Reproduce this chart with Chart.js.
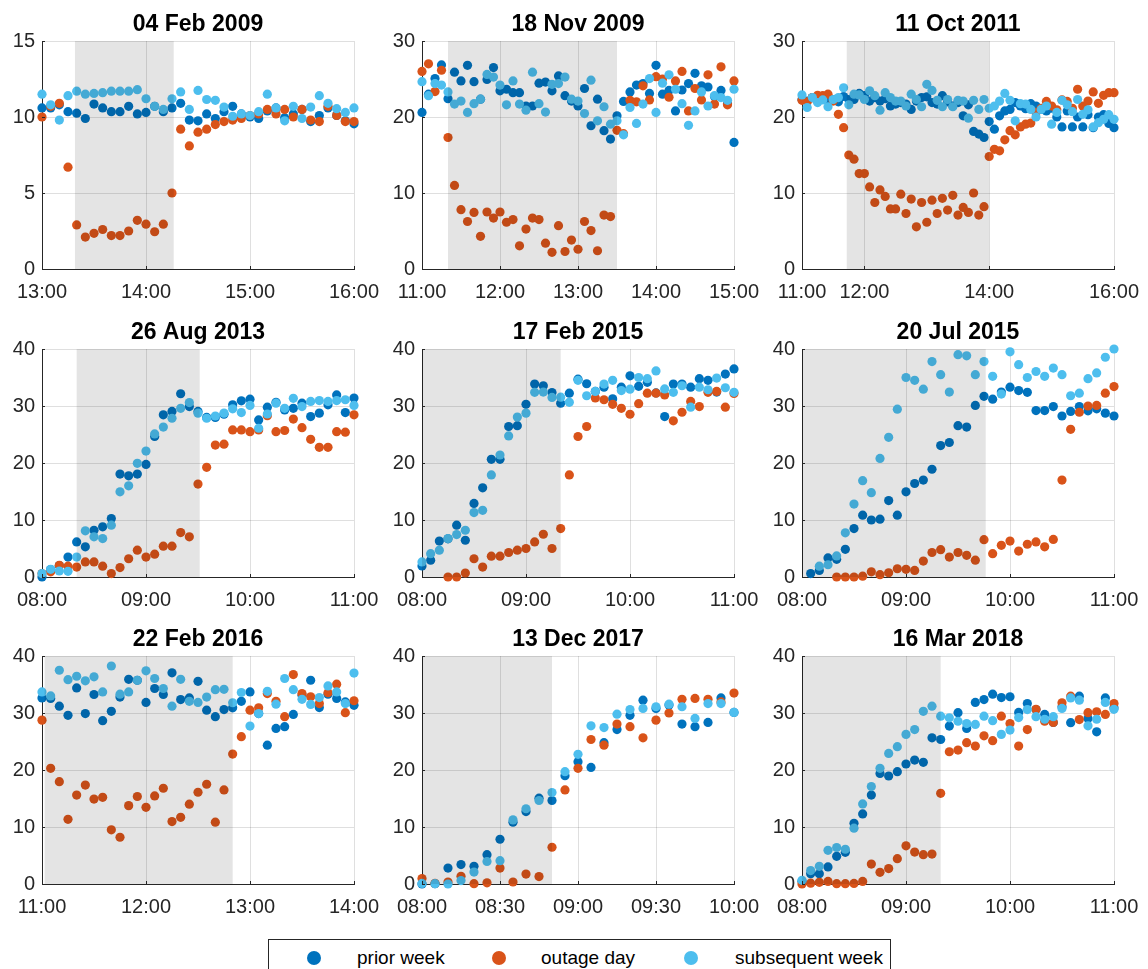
<!DOCTYPE html>
<html>
<head>
<meta charset="utf-8">
<script src="https://cdn.jsdelivr.net/npm/chart.js@4.4.1/dist/chart.umd.min.js"></script>
<style>
html,body{margin:0;padding:0;background:#fff;width:1148px;height:969px;overflow:hidden;position:relative;font-family:"Liberation Sans",Arial,Helvetica,sans-serif;}
canvas{position:absolute;}
#legend{position:absolute;left:268px;top:939px;width:623px;height:44px;border:1px solid #262626;background:#fff;box-sizing:border-box;}
#legend .dot{position:absolute;top:11px;width:14px;height:14px;border-radius:50%;}
#legend .txt{position:absolute;top:6px;font-size:19px;line-height:24px;color:#000;white-space:nowrap;}
</style>
</head>
<body>
<div id="legend">
  <div class="dot" style="left:38px;background:#0072BD"></div><div class="txt" style="left:88px">prior week</div>
  <div class="dot" style="left:223px;background:#D95319"></div><div class="txt" style="left:272px">outage day</div>
  <div class="dot" style="left:415px;background:#4DBEEE"></div><div class="txt" style="left:466px">subsequent week</div>
</div>
<script>
// ---------------- data ----------------
const titles = ['04 Feb 2009','18 Nov 2009','11 Oct 2011','26 Aug 2013','17 Feb 2015','20 Jul 2015','22 Feb 2016','13 Dec 2017','16 Mar 2018'];
const startTimes = ['13:00','11:00','11:00','08:00','08:00','08:00','11:00','08:00','08:00'];
const stepMinutes = 5;
const xTickLabels = [
  ['13:00','14:00','15:00','16:00'],
  ['11:00','12:00','13:00','14:00','15:00'],
  ['11:00','12:00','14:00','16:00'],
  ['08:00','09:00','10:00','11:00'],
  ['08:00','09:00','10:00','11:00'],
  ['08:00','09:00','10:00','11:00'],
  ['11:00','12:00','13:00','14:00'],
  ['08:00','08:30','09:00','09:30','10:00'],
  ['08:00','09:00','10:00','11:00']
];
const xMin = ['13:00','11:00','11:00','08:00','08:00','08:00','11:00','08:00','08:00'];
const xMax = ['16:00','15:00','16:00','11:00','11:00','11:00','14:00','10:00','11:00'];
const yTickLabels = [
  [0,5,10,15],[0,10,20,30],[0,10,20,30],
  [0,10,20,30,40],[0,10,20,30,40],[0,10,20,30,40],
  [0,10,20,30,40],[0,10,20,30,40],[0,10,20,30,40]
];
const shadeStart = ['13:19','11:20','11:43','08:20','08:00','08:00','11:01.5','08:00','08:00'];
const shadeEnd   = ['14:16','13:30','14:00','09:31','09:20','09:46','12:50','08:50','09:20'];

const p1Prior = [10.6,10.6,10.8,10.35,10.25,9.9,10.85,10.6,10.35,10.35,10.7,10.2,10.3,10.7,10.35,10.6,10.9,9.8,9.75,10.2,9.9,10.35,10.7,10.2,10.0,9.9,10.4,10.6,9.95,10.2,10.5,9.7,10.1,10.6,10.1,9.75,9.55];
const p1Outage = [10.0,10.7,10.9,6.7,2.9,2.1,2.35,2.6,2.2,2.2,2.5,3.2,2.95,2.45,2.95,5.0,9.2,8.1,9.0,9.2,9.5,9.7,9.8,9.9,10.1,10.2,10.5,10.2,10.5,10.0,10.5,9.8,9.7,10.7,10.1,9.7,9.7];
const p1Subsequent = [11.5,10.8,9.8,11.4,11.7,11.5,11.55,11.6,11.7,11.7,11.7,11.8,11.2,10.7,10.5,11.2,11.65,10.5,11.75,11.15,11.1,10.65,10.05,10.2,10.1,10.35,11.5,10.6,9.75,10.7,9.9,10.65,11.4,10.9,10.55,10.3,10.6];

const p2Prior = [20.6,23.0,25.05,26.85,22.4,25.9,24.75,26.8,24.65,22.35,24.95,26.5,23.45,23.65,23.2,23.2,21.45,21.45,24.45,24.6,23.45,25.4,22.8,22.1,21.45,23.75,18.85,22.35,18.2,17.1,20.15,22.05,23.3,24.2,24.4,23.1,26.8,23.0,23.5,20.8,23.55,24.4,25.75,24.1,23.95,22.7,23.5,21.75,16.65];
const p2Outage = [26.0,27.0,23.35,26.15,17.3,11.0,7.8,6.25,7.45,4.3,7.5,6.7,7.5,6.15,6.5,3.05,5.25,6.7,6.5,3.4,2.2,5.7,2.3,3.8,2.6,6.25,5.05,2.4,7.1,6.9,18.25,17.8,22.2,22.0,24.1,22.25,25.3,25.0,22.6,24.75,26.0,20.8,23.75,22.25,25.55,21.7,26.6,21.6,24.75];
const p2Subsequent = [24.65,22.8,24.4,24.2,23.3,21.7,22.1,20.6,21.75,22.35,25.6,25.25,24.2,21.6,24.75,21.7,20.9,25.9,21.75,20.65,24.3,24.4,25.25,22.35,22.1,20.45,24.85,19.5,21.35,19.05,19.5,17.65,21.25,19.15,21.7,25.05,20.6,24.45,25.55,23.65,21.75,18.9,20.8,23.3,21.45,22.8,22.55,22.2,23.65];

const p3Prior = [22.3,22.1,22.55,22.1,22.3,22.25,22.3,22.0,22.7,22.3,22.3,23.1,22.8,22.1,22.55,22.1,22.4,21.45,21.7,21.9,21.7,21.0,22.1,22.55,22.65,21.9,21.7,22.8,22.0,21.45,21.9,20.15,21.6,18.1,17.75,17.3,19.4,18.4,20.15,20.8,21.0,21.9,21.45,21.1,21.75,21.45,21.0,20.8,21.15,20.0,18.7,20.8,18.7,20.0,18.7,20.3,18.6,20.0,20.3,19.15,18.6];
const p3Outage = [22.2,22.0,22.55,22.85,22.8,23.0,22.1,20.35,18.6,15.0,14.45,12.55,12.55,10.8,8.75,10.4,9.55,7.9,7.9,9.85,7.3,9.2,5.55,8.75,6.15,9.05,7.3,9.3,7.75,9.7,7.1,8.1,7.45,10.0,7.1,8.2,14.8,15.75,15.55,17.0,18.2,17.65,18.7,19.05,19.2,20.6,21.15,22.05,21.45,20.95,22.25,22.05,21.15,23.65,21.45,22.1,23.3,21.8,22.85,23.2,23.2];
const p3Subsequent = [22.9,21.25,22.55,21.9,22.25,21.35,22.3,22.55,23.85,21.6,23.0,22.9,22.3,23.45,22.8,20.9,23.2,22.55,22.1,22.1,21.45,23.0,22.3,21.35,24.3,23.5,22.2,21.35,22.3,21.35,22.2,22.1,19.85,22.2,21.0,22.3,21.15,21.45,22.1,23.1,22.2,19.5,21.75,21.7,21.0,20.0,21.0,21.45,19.05,20.6,22.2,21.6,20.7,22.3,20.35,20.95,18.7,19.25,19.7,20.3,19.7];

const p4Prior = [0.0,1.3,2.0,3.5,6.15,5.3,8.2,8.8,10.25,18.05,17.75,18.05,19.75,24.65,28.45,29.05,32.15,29.9,29.05,28.0,28.0,28.55,30.2,30.9,31.2,27.55,29.8,30.65,29.3,29.6,30.5,28.15,28.75,30.2,31.95,28.85,31.4];
const p4Outage = [0.6,0.9,2.05,1.9,1.75,2.65,2.65,1.9,0.6,1.65,3.2,4.7,3.5,4.0,5.4,5.4,7.8,7.05,16.3,19.25,23.15,23.3,25.8,25.8,25.5,25.8,28.3,25.5,25.7,27.7,26.2,24.15,22.75,22.75,25.5,25.4,28.45];
const p4Subsequent = [0.6,1.35,1.05,1.0,3.5,8.1,7.05,6.75,9.1,14.95,16.0,19.95,22.1,25.1,26.3,27.85,29.6,30.6,28.75,27.85,28.25,28.75,29.5,28.85,30.1,26.1,28.6,30.5,29.6,31.35,29.9,30.8,30.95,30.8,30.95,31.1,30.1];

const p5Prior = [1.95,2.95,6.3,6.7,9.1,6.45,12.9,15.65,20.65,20.65,26.4,26.55,30.3,33.85,33.55,32.35,30.5,32.25,34.7,33.9,32.55,33.3,31.25,33.3,35.3,33.45,34.15,32.3,28.15,33.85,33.85,33.3,34.8,34.5,32.45,35.6,36.5];
const p5Outage = [null,null,null,0.0,0.0,0.7,3.2,1.75,3.65,3.65,4.3,4.7,5.0,6.15,7.5,5.0,8.5,17.9,24.65,26.4,31.4,31.1,30.3,29.6,28.55,30.4,32.25,32.25,31.95,27.4,28.9,30.8,29.9,32.4,32.55,29.8,32.2];
const p5Subsequent = [2.65,4.1,4.7,6.75,7.45,8.2,11.3,11.7,17.9,21.4,24.75,28.05,28.75,32.4,32.45,31.5,31.55,30.65,34.5,31.8,32.55,33.85,34.5,32.7,32.95,35.0,34.8,36.15,33.0,32.4,33.55,29.8,33.3,32.85,34.9,33.2,32.4];

const p6Prior = [null,0.6,1.15,3.35,3.1,4.85,8.5,10.85,10.0,10.15,13.4,10.85,14.95,16.4,17.0,18.9,23.05,23.6,26.55,26.3,30.1,31.7,31.2,32.45,33.3,32.7,32.4,29.2,29.2,29.9,28.25,29.05,29.9,29.15,29.5,28.75,28.25];
const p6Outage = [null,null,null,null,0.0,0.0,0.0,0.15,0.9,0.4,0.75,1.45,1.35,1.15,2.8,4.3,4.8,3.5,4.3,3.8,2.95,6.55,4.1,5.55,6.3,4.55,5.75,6.15,5.3,6.6,17.0,25.9,28.9,30.0,30.1,32.25,33.4];
const p6Subsequent = [null,null,1.9,2.15,3.7,7.75,12.8,16.9,14.8,20.8,24.5,29.45,35.0,34.5,32.95,37.8,35.5,32.45,39.0,38.8,35.5,37.8,35.2,32.1,39.5,37.25,35.0,36.05,35.2,36.65,35.5,31.8,32.25,34.8,35.8,38.55,40.0];

const p7Prior = [32.65,32.55,31.2,29.6,34.4,29.9,33.25,28.65,30.3,32.8,35.9,35.75,31.85,34.3,33.25,37.05,32.35,32.65,35.55,30.5,29.35,30.6,30.9,32.05,33.7,29.9,24.35,27.3,27.6,29.75,33.1,35.75,30.95,33.3,32.55,31.95,31.35];
const p7Outage = [28.75,20.3,17.95,11.35,15.6,17.35,14.9,15.2,9.5,8.2,13.75,15.35,13.45,15.45,16.8,10.95,11.7,14.0,16.1,17.5,10.85,16.5,22.8,25.85,30.5,30.9,33.4,32.05,29.35,36.75,33.4,32.85,31.65,33.55,35.05,30.05,32.15];
const p7Subsequent = [33.7,33.0,37.5,35.85,36.45,35.65,36.35,33.7,38.25,33.3,33.7,35.75,37.4,36.05,34.3,31.2,35.9,32.05,31.85,32.8,34.1,34.15,31.8,33.6,27.7,29.9,33.8,31.55,36.05,34.1,32.4,31.5,32.7,34.75,33.7,31.65,37.0];

const p8Prior = [0.0,0.05,2.8,3.4,3.1,5.15,7.85,10.85,12.7,15.05,14.65,19.0,21.45,20.45,24.8,27.1,29.6,32.25,30.8,31.4,28.05,27.6,28.35,32.65,30.1];
const p8Outage = [0.95,0.1,0.35,1.35,0.05,0.2,2.8,0.35,1.75,1.3,6.45,16.5,20.3,25.35,24.35,28.05,27.6,25.65,28.75,30.0,32.4,32.55,32.4,31.95,33.5];
const p8Subsequent = [0.1,0.05,0.0,0.6,2.1,3.95,4.1,11.25,13.2,14.65,16.05,19.7,22.75,27.75,27.45,29.8,30.6,30.8,31.1,31.55,31.1,29.05,31.65,31.65,30.1];

const p9Prior = [0.5,1.8,1.8,3.0,4.85,5.55,10.65,12.3,15.6,19.4,18.95,19.7,21.05,21.75,21.35,25.65,25.35,27.7,30.05,27.3,31.85,32.35,33.3,32.7,32.85,30.1,31.65,30.6,29.75,28.35,31.1,28.3,32.95,29.05,26.7,32.65,30.9];
const p9Outage = [0.0,0.15,0.3,0.45,0.05,0.05,0.1,0.45,3.5,2.05,2.7,4.45,6.7,5.6,5.15,5.25,15.9,23.2,23.5,24.8,24.2,26.0,25.15,29.45,28.15,24.2,27.1,30.65,28.55,28.35,31.8,32.95,28.85,30.05,30.2,29.75,31.65];
const p9Subsequent = [0.65,2.35,3.1,5.9,6.4,6.1,9.8,14.05,17.1,20.3,22.9,24.1,26.25,27.1,30.3,31.2,29.45,29.15,28.55,28.15,28.0,29.45,28.65,26.25,27.0,29.2,30.6,29.35,28.9,29.35,30.8,32.65,32.25,27.75,28.9,31.85,30.65];

const seriesNames = ['prior week','outage day','subsequent week'];
const seriesColors = ['#0072BD','#D95319','#4DBEEE'];
const priorData = [p1Prior,p2Prior,p3Prior,p4Prior,p5Prior,p6Prior,p7Prior,p8Prior,p9Prior];
const outageData = [p1Outage,p2Outage,p3Outage,p4Outage,p5Outage,p6Outage,p7Outage,p8Outage,p9Outage];
const subsequentData = [p1Subsequent,p2Subsequent,p3Subsequent,p4Subsequent,p5Subsequent,p6Subsequent,p7Subsequent,p8Subsequent,p9Subsequent];

// ---------------- layout ----------------
const FONT = '"Liberation Sans", Arial, Helvetica, sans-serif';
const TEXT = '#262626';
const plotLeft = [42, 422, 802];
const plotTop = [41, 349, 656];
const PLOT_W = 312, PLOT_H = 228;
const AX_LEFT = 42, AX_TOP = 40, PAD_RIGHT = 30, AX_BOTTOM = 34;

Chart.defaults.font.family = FONT;

function toMin(s){ const p = s.split(':'); return Number(p[0])*60 + Number(p[1]); }

const titlePlugin = {
  id:'panelTitle',
  afterDraw(chart, args, opts){
    const ctx = chart.ctx, a = chart.chartArea;
    ctx.save();
    ctx.font = 'bold 23px ' + FONT;
    ctx.fillStyle = '#000';
    ctx.textAlign = 'center';
    ctx.textBaseline = 'alphabetic';
    ctx.fillText(opts.text, (a.left + a.right)/2, a.top - 10);
    ctx.restore();
  }
};
const shadePlugin = {
  id:'shade',
  afterDatasetsDraw(chart, args, opts){
    const ctx = chart.ctx, a = chart.chartArea, xs = chart.scales.x;
    const x1 = xs.getPixelForValue(opts.from), x2 = xs.getPixelForValue(opts.to);
    ctx.save();
    ctx.fillStyle = 'rgba(0,0,0,0.105)';
    ctx.fillRect(x1, a.top, x2 - x1, a.bottom - a.top);
    ctx.restore();
  }
};
const tickMarkPlugin = {
  id:'tickMarks',
  afterDraw(chart){
    const ctx = chart.ctx, a = chart.chartArea, xs = chart.scales.x, ys = chart.scales.y;
    ctx.save();
    ctx.strokeStyle = TEXT; ctx.lineWidth = 1;
    ctx.beginPath();
    xs.ticks.forEach(t => { const px = Math.round(xs.getPixelForValue(t.value)) + 0.5; ctx.moveTo(px, a.bottom); ctx.lineTo(px, a.bottom - 3); });
    ys.ticks.forEach(t => { const py = Math.round(ys.getPixelForValue(t.value)) + 0.5; ctx.moveTo(a.left, py); ctx.lineTo(a.left + 3, py); });
    ctx.stroke();
    ctx.restore();
  }
};

function makeChart(k){
  const col = k % 3, row = Math.floor(k / 3);
  const W = AX_LEFT + PLOT_W + PAD_RIGHT, H = AX_TOP + PLOT_H + AX_BOTTOM;
  const c = document.createElement('canvas');
  c.width = W; c.height = H;
  c.style.width = W + 'px'; c.style.height = H + 'px';
  c.style.left = (plotLeft[col] - AX_LEFT) + 'px';
  c.style.top = (plotTop[row] - AX_TOP) + 'px';
  document.body.appendChild(c);

  const t0 = toMin(startTimes[k]);
  const pts = arr => arr.map((v, i) => v === null ? null : {x: t0 + i * stepMinutes, y: v}).filter(p => p);
  const xt = xTickLabels[k].map(toMin);
  const yt = yTickLabels[k];
  const series = [priorData[k], outageData[k], subsequentData[k]];

  new Chart(c, {
    type:'scatter',
    data:{ datasets: series.map((s, j) => ({
      label: seriesNames[j], data: pts(s), backgroundColor: seriesColors[j], borderWidth: 0, order: 3 - j, clip: false
    }))},
    options:{
      responsive:false, animation:false, devicePixelRatio:1,
      layout:{ padding:{ left:0, right:PAD_RIGHT, top:AX_TOP, bottom:0 } },
      elements:{ point:{ radius:4.6, hoverRadius:4.6, borderWidth:0 } },
      events:[],
      plugins:{
        legend:{display:false}, tooltip:{enabled:false},
        panelTitle:{ text: titles[k] },
        shade:{ from: toMin(shadeStart[k]), to: toMin(shadeEnd[k]) }
      },
      scales:{
        x:{
          type:'linear', min: toMin(xMin[k]), max: toMin(xMax[k]),
          afterBuildTicks: s => { s.ticks = xt.map(v => ({value:v})); },
          afterFit: s => { s.height = AX_BOTTOM; s.paddingLeft = 0; s.paddingRight = 0; },
          ticks:{ callback:(v, i) => xTickLabels[k][i], color:TEXT, font:{size:20, family:FONT}, padding:11, maxRotation:0, autoSkip:false },
          grid:{ color:'rgba(38,38,38,0.15)', drawTicks:false, lineWidth:1 },
          border:{ color:TEXT, width:1 }
        },
        y:{
          type:'linear', min: yt[0], max: yt[yt.length-1],
          afterBuildTicks: s => { s.ticks = yt.map(v => ({value:v})); },
          afterFit: s => { s.width = AX_LEFT; s.paddingTop = 0; s.paddingBottom = 0; },
          ticks:{ callback:(v, i) => String(yt[i]), color:TEXT, font:{size:20, family:FONT}, padding:7 },
          grid:{ color:'rgba(38,38,38,0.15)', drawTicks:false, lineWidth:1 },
          border:{ color:TEXT, width:1 }
        }
      }
    },
    plugins:[shadePlugin, tickMarkPlugin, titlePlugin]
  });
}
for (let k = 0; k < 9; k++) makeChart(k);
</script>
</body>
</html>
